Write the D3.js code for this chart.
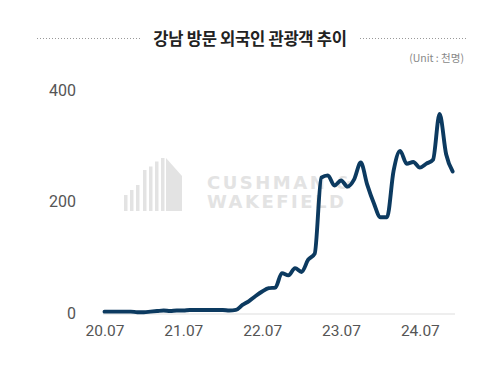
<!DOCTYPE html>
<html>
<head>
<meta charset="utf-8">
<script src="https://cdn.jsdelivr.net/npm/d3@7"></script>
<style>
  html, body { margin: 0; padding: 0; background: #fff; }
  svg { display: block; }
</style>
</head>
<body>
<svg id="chart" width="503" height="374"></svg>
<script>
// ---- data ----
const title = "강남 방문 외국인 관광객 추이";
const unitLabel = "(Unit : 천명)";
const months = d3.timeMonths(new Date(2020, 6, 1), new Date(2025, 0, 1)).map(d3.timeFormat("%y.%m"));
const visitors = [
  3, 3, 3, 3, 3, 2, 2, 3, 4, 5, 4, 5,
  5, 6, 6, 6, 6, 6, 6, 5, 6, 15, 22, 31,
  39, 45, 46, 72, 68, 81, 74, 96, 107, 243, 247, 229,
  238, 227, 240, 270, 230, 197, 172, 172, 255, 291, 268, 271,
  261, 268, 275, 357, 285, 254
];
const xTickLabels = ["20.07", "21.07", "22.07", "23.07", "24.07"];
const yTickValues = [0, 200, 400];

// ---- drawing ----
const svg = d3.select("#chart");

// title + dotted rules
svg.append("text")
  .attr("x", 250).attr("y", 44.5)
  .attr("text-anchor", "middle")
  .attr("font-family", "'Noto Sans CJK KR', 'Noto Sans', sans-serif")
  .attr("font-weight", 700)
  .attr("font-size", 16.6)
  .attr("letter-spacing", -0.3)
  .attr("fill", "#222")
  .text(title);

[[37, 142], [360, 467]].forEach(([a, b]) => {
  svg.append("line")
    .attr("x1", a).attr("x2", b).attr("y1", 38.5).attr("y2", 38.5)
    .attr("stroke", "#999").attr("stroke-width", 1)
    .attr("stroke-dasharray", "1,2");
});

svg.append("text")
  .attr("x", 464).attr("y", 62)
  .attr("text-anchor", "end")
  .attr("font-family", "'Noto Sans CJK KR', 'Noto Sans', sans-serif")
  .attr("font-size", 10.5)
  .attr("fill", "#888")
  .text(unitLabel);

// watermark
const wm = svg.append("g").attr("fill", "#e3e3e3");
const barsX = [124, 130, 136, 143, 149, 155, 161];
const barsTop = [195, 190, 185, 170, 166.5, 161.5, 158];
barsX.forEach((bx, i) => {
  wm.append("rect").attr("x", bx).attr("y", barsTop[i]).attr("width", 3.5).attr("height", 211 - barsTop[i]);
});
wm.append("path").attr("d", "M166,158 L182,176 L182,211 L166,211 Z");
wm.append("text").attr("x", 207).attr("y", 188.5)
  .attr("font-family", "'DejaVu Sans', sans-serif").attr("font-weight", 700)
  .attr("font-size", 18).attr("letter-spacing", 2.5).text("CUSHMAN &");
wm.append("text").attr("x", 207).attr("y", 207.5)
  .attr("font-family", "'DejaVu Sans', sans-serif").attr("font-weight", 700)
  .attr("font-size", 18).attr("letter-spacing", 2.5).text("WAKEFIELD");

// scales
const x = d3.scalePoint().domain(months).range([104.5, 452.7]);
const y = d3.scaleLinear().domain([0, 400]).range([313.3, 90]);

// x axis
const xAxis = svg.append("g")
  .attr("transform", "translate(0,314)")
  .call(d3.axisBottom(x).tickValues(xTickLabels).tickSize(0).tickPadding(11));
xAxis.select(".domain").attr("stroke", "#ddd").attr("stroke-width", 1)
  .attr("d", "M103,0H455");
xAxis.selectAll("text")
  .attr("font-family", "Roboto, 'Open Sans', sans-serif")
  .attr("font-size", 15.5)
  .attr("fill", "#555");

// y axis
const yAxis = svg.append("g")
  .attr("transform", "translate(83,0)")
  .call(d3.axisLeft(y).tickValues(yTickValues).tickSize(0).tickPadding(7));
yAxis.select(".domain").remove();
yAxis.selectAll("text")
  .attr("font-family", "Roboto, 'Open Sans', sans-serif")
  .attr("font-size", 16)
  .attr("fill", "#555");

// line
const line = d3.line()
  .x((d, i) => x(months[i]))
  .y(d => y(d))
  .curve(d3.curveMonotoneX);

svg.append("path")
  .datum(visitors)
  .attr("d", line)
  .attr("fill", "none")
  .attr("stroke", "#0c3a60")
  .attr("stroke-width", 3.9)
  .attr("stroke-linecap", "round")
  .attr("stroke-linejoin", "round");
</script>
</body>
</html>
